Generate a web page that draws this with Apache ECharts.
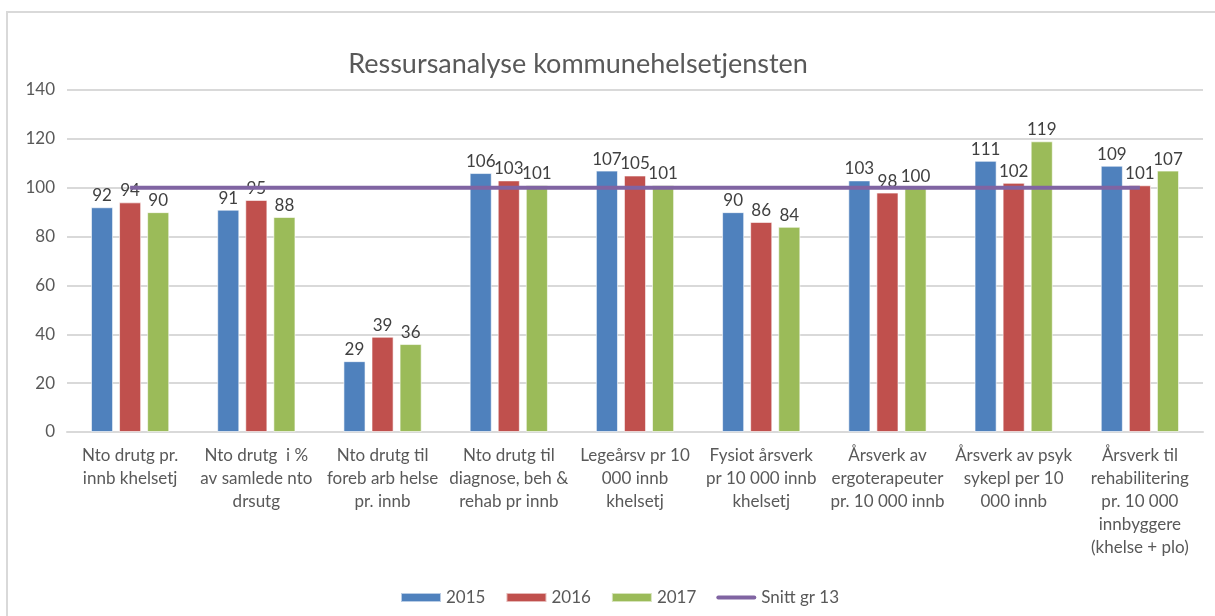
<!DOCTYPE html>
<html>
<head>
<meta charset="utf-8">
<title>Ressursanalyse kommunehelsetjensten</title>
<script src="https://cdn.jsdelivr.net/npm/echarts@6/dist/echarts.min.js"></script>
<style>
  html, body { margin: 0; padding: 0; background: #fff; }
  #chart { width: 1215px; height: 616px; }
</style>
</head>
<body>
<div id="chart"></div>
<script>
    var categories = [
        'Nto drutg pr.\ninnb khelsetj',
        'Nto drutg  i %\nav samlede nto\ndrsutg',
        'Nto drutg til\nforeb arb helse\npr. innb',
        'Nto drutg til\ndiagnose, beh &\nrehab pr innb',
        'Legeårsv pr 10\n000 innb\nkhelsetj',
        'Fysiot årsverk\npr 10 000 innb\nkhelsetj',
        'Årsverk av\nergoterapeuter\npr. 10 000 innb',
        'Årsverk av psyk\nsykepl per 10\n000 innb',
        'Årsverk til\nrehabilitering\npr. 10 000\ninnbyggere\n(khelse + plo)'
    ];
    var data2015 = [92, 91, 29, 106, 107, 90, 103, 111, 109];
    var data2016 = [94, 95, 39, 103, 105, 86, 98, 102, 101];
    var data2017 = [90, 88, 36, 101, 101, 84, 100, 119, 107];
    var snitt = [100, 100, 100, 100, 100, 100, 100, 100, 100];
    var yTicks = { min: 0, max: 140, interval: 20 };

    var font = 'Lato, "Open Sans", sans-serif';
    var myChart = echarts.init(document.getElementById('chart'), null, { renderer: 'canvas' });

    function barSeries(name, data, color) {
        return {
            name: name,
            type: 'bar',
            data: data,
            barGap: '27%',
            barCategoryGap: '38%',
            itemStyle: { color: color, borderColor: 'rgba(255,255,255,0.6)', borderWidth: 1 },
            label: {
                show: true,
                position: 'top',
                distance: 3,
                color: '#404040',
                fontFamily: font,
                fontSize: 17
            }
        };
    }

    var option = {
        animation: false,
        textStyle: { fontFamily: font },
        graphic: [{
            type: 'rect',
            shape: { x: 7, y: 12, width: 1220, height: 620 },
            style: { fill: 'none', stroke: '#d9d9d9', lineWidth: 2 },
            silent: true
        }],
        title: {
            text: 'Ressursanalyse kommunehelsetjensten',
            left: 573,
            textAlign: 'center',
            top: 46,
            textStyle: { color: '#595959', fontSize: 27, fontWeight: 'normal', fontFamily: font }
        },
        legend: {
            top: 584,
            left: 395,
            itemWidth: 40,
            itemHeight: 9,
            itemGap: 20,
            textStyle: { color: '#595959', fontSize: 17, fontFamily: font },
            data: [
                { name: '2015', icon: 'rect' },
                { name: '2016', icon: 'rect' },
                { name: '2017', icon: 'rect' },
                { name: 'Snitt gr 13', icon: 'path://M2,0 L38,0 A2,2 0 0 1 38,4 L2,4 A2,2 0 0 1 2,0 Z' }
            ]
        },
        grid: { left: 67, right: 12, top: 90, bottom: 184 },
        xAxis: {
            type: 'category',
            data: categories,
            axisLine: { lineStyle: { color: '#d9d9d9', width: 2 } },
            axisTick: { show: false },
            axisLabel: {
                interval: 0,
                color: '#595959',
                fontSize: 17,
                lineHeight: 23,
                margin: 12,
                fontFamily: font
            }
        },
        yAxis: {
            type: 'value',
            min: yTicks.min,
            max: yTicks.max,
            interval: yTicks.interval,
            axisLine: { show: false },
            axisTick: { show: false },
            splitLine: { lineStyle: { color: '#d9d9d9', width: 2 } },
            axisLabel: { color: '#595959', fontSize: 17, margin: 12, fontFamily: font }
        },
        series: [
            barSeries('2015', data2015, '#4f81bd'),
            barSeries('2016', data2016, '#c0504d'),
            barSeries('2017', data2017, '#9bbb59'),
            {
                name: 'Snitt gr 13',
                type: 'line',
                data: snitt,
                symbol: 'none',
                z: 5,
                lineStyle: { color: '#8064a2', width: 4 },
                itemStyle: { color: '#8064a2' }
            }
        ]
    };
    myChart.setOption(option);
</script>
</body>
</html>
